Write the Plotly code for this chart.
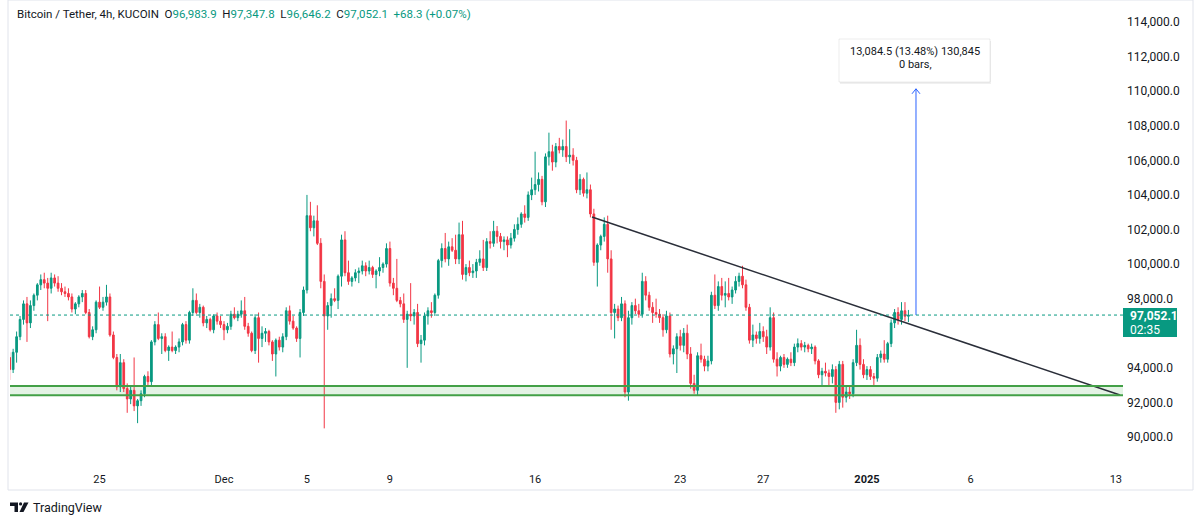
import pandas as pd
import plotly.graph_objects as go

# ---------------- data (BTC/USDT, 4h candles, KUCOIN) ----------------
start_time = "2024-11-20 16:00"
opens = [94600, 93900,
 94900, 95800, 96800, 97700, 96600, 97600,
 98200, 98800, 99100, 98900, 98600, 99200,
 98900, 98600, 98400, 98300, 98100, 97400,
 97700, 98100, 98300, 97200, 95800, 96200,
 97800, 97500, 97800, 98100, 95900, 94600,
 92900, 94300, 92800, 92200, 92700, 91800,
 92100, 92500, 93500, 93200, 95500, 96500,
 95700, 95800, 95000, 95200, 95000, 95200,
 95500, 96500, 95600, 97200, 97900, 97200,
 97500, 96600, 96800, 96200, 97000, 96700,
 96500, 96200, 96400, 97100, 96900, 97100,
 97300, 96400, 96000, 95000, 96900, 95700,
 96000, 96100, 95500, 94800, 95600, 95200,
 95800, 97300, 96700, 96300, 95700, 97200,
 98500, 102800, 102100, 102500, 101200, 99000,
 97000, 97600, 98000, 97900, 99300, 101400,
 99500, 99000, 99200, 99500, 99600, 99900,
 99600, 99800, 99400, 99600, 99800, 100000,
 100900, 98900, 98600, 97900, 97700, 96800,
 97100, 97000, 97200, 95400, 95600, 97000,
 97300, 97200, 98200, 100200, 100900, 100300,
 101000, 100800, 100300, 101700, 99400, 99800,
 99500, 99600, 100100, 100300, 99800, 101300,
 101200, 101900, 101600, 101300, 101400, 101100,
 101500, 102000, 102300, 102900, 102700, 104000,
 104300, 104600, 104900, 103600, 106200, 106500,
 105900, 106800, 106600, 106800, 106200, 106300,
 106000, 104300, 104900, 104100, 104300, 102900,
 100100, 101100, 101600, 102300, 100300, 97200,
 97400, 96900, 97700, 92600, 96900, 97600,
 97300, 97100, 99000, 98200, 97500, 97200,
 97100, 96900, 96200, 97000, 94800, 95100,
 95800, 95300, 96000, 94800, 93100, 92700,
 94700, 94500, 94100, 94400, 98200, 97600,
 98700, 98200, 98300, 98100, 98500, 99000,
 99300, 98800, 97500, 95600, 95900, 95700,
 96100, 95800, 95200, 96900, 94500, 94100,
 94600, 94200, 94500, 94300, 95200, 95400,
 95200, 95300, 95100, 95200, 94400, 93600,
 93800, 93700, 93500, 93900, 92000, 94200,
 92300, 92600, 92500, 94300, 95300, 94200,
 93600, 93900, 93500, 93400, 94600, 94800,
 94500, 95400, 96600, 97200, 96800, 97300,
 96983.9]
highs = [94900, 95100,
 96100, 97000, 97900, 98100, 97900, 98300,
 98900, 99400, 99500, 99200, 99500, 99400,
 99300, 98900, 98700, 98600, 98300, 97800,
 98200, 98500, 98500, 97400, 96400, 97900,
 98700, 98100, 98800, 98300, 96100, 94800,
 94800, 94500, 93100, 92900, 94600, 92200,
 92700, 93600, 93800, 95600, 96700, 97200,
 96000, 96000, 95300, 96100, 95300, 95700,
 96600, 96700, 97300, 98600, 98300, 97700,
 97600, 97000, 96900, 97100, 97200, 97000,
 96700, 96600, 97300, 97500, 97300, 97900,
 98100, 96600, 96100, 97100, 97200, 96400,
 96300, 96200, 95600, 95700, 95800, 96000,
 97500, 97600, 97000, 96400, 97400, 98700,
 104000, 103600, 102800, 103400, 101500, 99400,
 97800, 98300, 98600, 99400, 101700, 101900,
 100200, 99300, 99700, 99800, 100200, 100100,
 100200, 99900, 99700, 100400, 100100, 101200,
 101300, 99200, 100300, 98100, 98300, 97300,
 98900, 97400, 97700, 95900, 97200, 97500,
 97800, 98300, 100300, 101200, 101800, 101300,
 101500, 101700, 102400, 102500, 100000, 100200,
 100000, 100300, 100800, 101400, 101500, 101900,
 102500, 102200, 101800, 101600, 101600, 101800,
 102300, 102700, 103000, 103400, 104200, 105000,
 106500, 105300, 105100, 106400, 107600, 106900,
 107000, 107300, 107200, 108300, 107800, 106700,
 106200, 105200, 105000, 105300, 104600, 103200,
 101200, 101700, 102700, 102800, 100800, 97700,
 97600, 98100, 97900, 97300, 97800, 98000,
 97700, 99500, 99300, 98400, 97800, 98000,
 97400, 97100, 97300, 97200, 95300, 96000,
 96200, 96300, 96500, 95200, 93600, 94900,
 95400, 94700, 94700, 98400, 99400, 99000,
 99200, 99000, 99200, 98700, 99300, 99500,
 99900, 99100, 97700, 96500, 96100, 96600,
 96400, 96200, 97500, 97200, 94900, 94700,
 94800, 94600, 94900, 95400, 95700, 95600,
 95500, 95400, 95400, 95300, 94500, 94000,
 94300, 93900, 94200, 94100, 94400, 94400,
 92900, 92900, 94500, 96200, 95700, 94500,
 94100, 94100, 93700, 94800, 95000, 95600,
 95500, 96800, 97400, 97500, 97800, 97800,
 97347.8]
lows = [93300, 93700,
 94300, 95600, 96500, 95500, 96300, 97300,
 97900, 98500, 98600, 96700, 98300, 98700,
 98400, 98200, 98100, 97900, 97200, 97100,
 97500, 97800, 97100, 95700, 95600, 96000,
 97400, 97300, 97600, 95800, 94500, 92700,
 92600, 92600, 91400, 91900, 91500, 90800,
 91800, 92300, 93000, 92900, 95300, 95600,
 94800, 94900, 94400, 94900, 94800, 94900,
 95300, 95400, 95400, 97000, 97100, 96900,
 96400, 96300, 96100, 96000, 96500, 96300,
 95600, 96000, 96200, 96800, 96700, 96900,
 96200, 95800, 94900, 94800, 94300, 95200,
 95500, 95300, 94400, 93500, 95000, 94900,
 95600, 96500, 96200, 95500, 94600, 97000,
 98300, 101900, 101600, 101100, 98600, 90500,
 96200, 96900, 97800, 97400, 98700, 99300,
 98800, 98700, 99000, 98900, 99400, 99300,
 99400, 99200, 98600, 99300, 99500, 99800,
 98700, 98200, 97800, 97500, 96600, 94000,
 96700, 96500, 95200, 94300, 95300, 96500,
 96900, 97000, 98000, 99800, 100100, 99900,
 100700, 100000, 100000, 99100, 99000, 99300,
 99200, 99200, 99900, 99600, 99600, 100900,
 101000, 101200, 100900, 100800, 100400, 100900,
 101300, 101700, 102100, 102400, 102500, 103700,
 104000, 104200, 103400, 103300, 105700, 105400,
 105600, 106400, 106200, 105900, 105800, 105700,
 104100, 104000, 103900, 103800, 102700, 99900,
 98700, 100800, 101300, 99500, 96200, 95700,
 96700, 96700, 92300, 92100, 96500, 97100,
 96900, 96900, 97900, 97300, 96600, 96900,
 96600, 95800, 96000, 94600, 94200, 93700,
 95000, 94900, 94500, 92800, 92500, 92400,
 94300, 93800, 93800, 94200, 97400, 97300,
 97900, 97500, 97900, 97700, 98300, 98700,
 98600, 97300, 95400, 95200, 95400, 95400,
 95500, 94800, 95000, 94300, 93500, 93800,
 94000, 94000, 94100, 94100, 94900, 95000,
 94900, 94900, 94800, 94200, 93400, 93000,
 93500, 93000, 93100, 91400, 91600, 91700,
 92000, 92200, 92300, 94100, 93900, 93400,
 93300, 93300, 92900, 93200, 94300, 94300,
 94300, 95200, 96300, 96500, 96500, 96700,
 96646.2]
closes = [93900, 94900,
 95800, 96800, 97700, 96600, 97600, 98200,
 98800, 99100, 98900, 98600, 99200, 98900,
 98600, 98400, 98300, 98100, 97400, 97700,
 98100, 98300, 97200, 95800, 96200, 97800,
 97500, 97800, 98100, 95900, 94600, 92900,
 94300, 92800, 92200, 92700, 91800, 92100,
 92500, 93500, 93200, 95500, 96500, 95700,
 95800, 95000, 95200, 95000, 95200, 95500,
 96500, 95600, 97200, 97900, 97200, 97500,
 96600, 96800, 96200, 97000, 96700, 96500,
 96200, 96400, 97100, 96900, 97100, 97300,
 96400, 96000, 95000, 96900, 95700, 96000,
 96100, 95500, 94800, 95600, 95200, 95800,
 97300, 96700, 96300, 95700, 97200, 98500,
 102800, 102100, 102500, 101200, 99000, 97000,
 97600, 98000, 97900, 99300, 101400, 99500,
 99000, 99200, 99500, 99600, 99900, 99600,
 99800, 99400, 99600, 99800, 100000, 100900,
 98900, 98600, 97900, 97700, 96800, 97100,
 97000, 97200, 95400, 95600, 97000, 97300,
 97200, 98200, 100200, 100900, 100300, 101000,
 100800, 100300, 101700, 99400, 99800, 99500,
 99600, 100100, 100300, 99800, 101300, 101200,
 101900, 101600, 101300, 101400, 101100, 101500,
 102000, 102300, 102900, 102700, 104000, 104300,
 104600, 104900, 103600, 106200, 106500, 105900,
 106800, 106600, 106800, 106200, 106300, 106000,
 104300, 104900, 104100, 104300, 102900, 100100,
 101100, 101600, 102300, 100300, 97200, 97400,
 96900, 97700, 92600, 96900, 97600, 97300,
 97100, 99000, 98200, 97500, 97200, 97100,
 96900, 96200, 97000, 94800, 95100, 95800,
 95300, 96000, 94800, 93100, 92700, 94700,
 94500, 94100, 94400, 98200, 97600, 98700,
 98200, 98300, 98100, 98500, 99000, 99300,
 98800, 97500, 95600, 95900, 95700, 96100,
 95800, 95200, 96900, 94500, 94100, 94600,
 94200, 94500, 94300, 95200, 95400, 95200,
 95300, 95100, 95200, 94400, 93600, 93800,
 93700, 93500, 93900, 92000, 94200, 92300,
 92600, 92500, 94300, 95300, 94200, 93600,
 93900, 93500, 93400, 94600, 94800, 94500,
 95400, 96600, 97200, 96800, 97300, 96983.9,
 97052.1]

# x-axis tick labels
tick_dates = ["2024-11-25", "2024-12-01", "2024-12-05", "2024-12-09", "2024-12-16",
              "2024-12-23", "2024-12-27", "2025-01-01", "2025-01-06", "2025-01-13"]
tick_labels = ["25", "Dec", "5", "9", "16", "23", "27", "<b>2025</b>", "6", "13"]
# y-axis tick values (96,000 hidden behind the last-price label)
price_ticks = [90000, 92000, 94000, 98000, 100000, 102000, 104000,
               106000, 108000, 110000, 112000, 114000]

# drawings
support_zone = [92420, 92950]
trend_start = ("2024-12-18 17:50", 102723)
trend_end = ("2025-01-13 04:48", 92429)
last_price = 97052.1
measure_time = "2025-01-03 08:45"
measure_target = 110136.6
measure_text = ["13,084.5 (13.48%) 130,845", "0 bars,"]
header_title = "Bitcoin / Tether, 4h, KUCOIN"
header_ohlc = ["96,983.9", "97,347.8", "96,646.2", "97,052.1"]
header_change = "+68.3 (+0.07%)"
countdown = "02:35"

# ---------------- figure ----------------
GREEN = "#089981"
RED = "#F23645"
TEXT = "#131722"
FONT = "Roboto"

times = pd.date_range(start=start_time, periods=len(closes), freq="4h")

W, H = 1200, 525
ML, MR, MT, MB = 10, 77, 0, 60
PW, PH = W - ML - MR, H - MT - MB


def px(xp, yp):
    return (xp - ML) / PW, (H - MB - yp) / PH


fig = go.Figure()
fig.add_trace(go.Candlestick(
    x=times, open=opens, high=highs, low=lows, close=closes,
    increasing=dict(line=dict(color=GREEN, width=1), fillcolor=GREEN),
    decreasing=dict(line=dict(color=RED, width=1), fillcolor=RED),
    whiskerwidth=0, hoverinfo="skip", name="BTCUSDT"))

# trend line
fig.add_trace(go.Scatter(x=[trend_start[0], trend_end[0]], y=[trend_start[1], trend_end[1]],
                         mode="lines", line=dict(color="#2a2e39", width=1.5), hoverinfo="skip"))
# measure arrow
fig.add_trace(go.Scatter(x=[measure_time, measure_time], y=[last_price, measure_target],
                         mode="lines", line=dict(color="#2962FF", width=1), hoverinfo="skip"))

shapes = []
# support zone
shapes.append(dict(type="rect", xref="paper", yref="y", x0=0, x1=1,
                   y0=support_zone[0], y1=support_zone[1],
                   fillcolor="rgba(76,175,80,0.15)", line=dict(width=0), layer="below"))
for v in support_zone:
    shapes.append(dict(type="line", xref="paper", yref="y", x0=0, x1=1, y0=v, y1=v,
                       line=dict(color="#43a047", width=2)))
# last price dotted line
shapes.append(dict(type="line", xref="paper", yref="y", x0=0, x1=1, y0=last_price, y1=last_price,
                   line=dict(color=GREEN, width=1, dash="dot")))
# arrow head
shapes.append(dict(type="path", xref="x", yref="y", xsizemode="pixel", ysizemode="pixel",
                   xanchor=measure_time, yanchor=measure_target,
                   path="M-4,-5 L0,0 L4,-5", line=dict(color="#2962FF", width=1)))

# frame
fx0, fy0 = px(8, 0)
fx1, fy1 = px(1193, 490)
shapes.append(dict(type="rect", xref="paper", yref="paper", x0=fx0, y0=fy0, x1=fx1, y1=fy1,
                   line=dict(color="#e0e3eb", width=1), layer="below"))
# last price label box
bx0, by0 = px(1123, 308)
bx1, by1 = px(1177, 337)
shapes.append(dict(type="rect", xref="paper", yref="paper", x0=bx0, y0=by0, x1=bx1, y1=by1,
                   fillcolor=GREEN, line=dict(width=0)))
# measure info box (shadow + box)
sx0, sy0 = px(840, 41)
sx1, sy1 = px(991, 84)
shapes.append(dict(type="rect", xref="paper", yref="paper", x0=sx0, y0=sy0, x1=sx1, y1=sy1,
                   fillcolor="rgba(0,0,0,0.06)", line=dict(width=0)))
mx0, my0 = px(839, 39)
mx1, my1 = px(990, 82)
shapes.append(dict(type="rect", xref="paper", yref="paper", x0=mx0, y0=my0, x1=mx1, y1=my1,
                   fillcolor="white", line=dict(color="rgba(0,0,0,0.07)", width=1)))


def ppath(points):
    s = ""
    for i, (a, b) in enumerate(points):
        xa, yb = px(a, b)
        s += ("M" if i == 0 else "L") + f"{xa:.5f},{yb:.5f} "
    return s + "Z"


# TradingView logo glyph
shapes.append(dict(type="path", xref="paper", yref="paper", fillcolor=TEXT, line=dict(width=0),
                   path=ppath([(10, 502.5), (18, 502.5), (18, 512), (14.5, 512), (14.5, 506), (10, 506)])))
cx0, cy0 = px(19, 502.3)
cx1, cy1 = px(22.2, 505.5)
shapes.append(dict(type="circle", xref="paper", yref="paper", x0=cx0, y0=cy0, x1=cx1, y1=cy1,
                   fillcolor=TEXT, line=dict(width=0)))
shapes.append(dict(type="path", xref="paper", yref="paper", fillcolor=TEXT, line=dict(width=0),
                   path=ppath([(24, 502.5), (28.5, 502.5), (23.5, 512), (19.5, 512)])))

annotations = []


def add_text(text, xp, yp, size=11, color=TEXT, anchor="left"):
    xx, yy = px(xp, yp)
    annotations.append(dict(xref="paper", yref="paper", x=xx, y=yy, text=text, showarrow=False,
                            xanchor=anchor, yanchor="middle",
                            font=dict(family=FONT, size=size, color=color)))


# header
hdr = (f"{header_title}&nbsp;&nbsp;O<span style='color:{GREEN}'>{header_ohlc[0]}</span>"
       f"&nbsp;&nbsp;H<span style='color:{GREEN}'>{header_ohlc[1]}</span>"
       f"&nbsp;&nbsp;L<span style='color:{GREEN}'>{header_ohlc[2]}</span>"
       f"&nbsp;&nbsp;C<span style='color:{GREEN}'>{header_ohlc[3]}</span>"
       f"&nbsp;&nbsp;<span style='color:{GREEN}'>{header_change}</span>")
add_text(hdr, 15, 14, size=11.5)
# last price label
add_text(f"<b>{last_price:,.1f}</b>", 1128, 316, size=12, color="white")
add_text(countdown, 1128, 330, size=12, color="white")
# measure text
add_text(measure_text[0], 915, 52, size=11, anchor="center")
add_text(measure_text[1], 915, 64, size=11, anchor="center")
# logo text
add_text("TradingView", 31, 507, size=12.5)

fig.update_layout(
    width=W, height=H, margin=dict(l=ML, r=MR, t=MT, b=MB),
    paper_bgcolor="white", plot_bgcolor="white", showlegend=False,
    shapes=shapes, annotations=annotations,
    font=dict(family=FONT, size=11, color=TEXT),
    xaxis=dict(type="date", range=["2024-11-20 16:22", "2025-01-13 08:18"],
               rangeslider=dict(visible=False), showgrid=False, zeroline=False,
               tickvals=tick_dates, ticktext=tick_labels, ticks="", showline=False,
               ticklabelstandoff=6,
               tickfont=dict(family=FONT, size=11, color=TEXT)),
    yaxis=dict(side="right", range=[88381, 115272], showgrid=False, zeroline=False,
               tickvals=price_ticks, tickformat=",.1f", ticks="", showline=False,
               ticklabelstandoff=3,
               tickfont=dict(family=FONT, size=12, color=TEXT)),
)

fig.write_html("out.html")
